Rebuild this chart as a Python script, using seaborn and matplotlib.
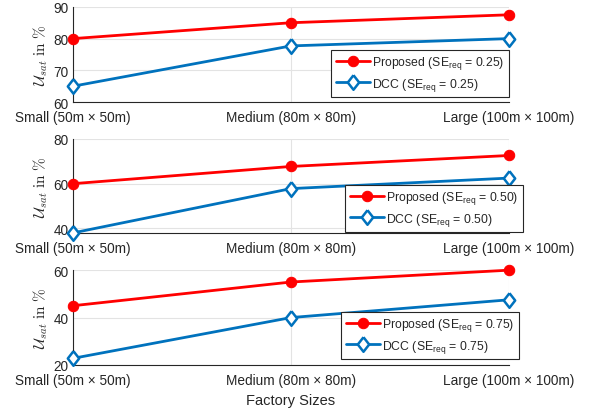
import numpy as np
import pandas as pd
import seaborn as sns
import matplotlib.pyplot as plt

sizes = ['Small (50m × 50m)', 'Medium (80m × 80m)', 'Large (100m × 100m)']
se_req = ['0.25', '0.50', '0.75']

proposed_025 = [80, 85, 87.5]
dcc_025 = [65, 77.7, 80]
proposed_050 = [60, 67.7, 72.6]
dcc_050 = [38, 57.8, 62.5]
proposed_075 = [45, 55, 60]
dcc_075 = [22.8, 40, 47.5]

ylims = [(60, 90), (38, 80), (20, 60)]
yticks = [[60, 70, 80, 90], [40, 60, 80], [20, 40, 60]]

sns.set_style('white')
plt.rcParams['font.family'] = ['Liberation Sans', 'DejaVu Sans']
plt.rcParams['mathtext.fontset'] = 'custom'
plt.rcParams['mathtext.rm'] = 'Liberation Sans'
plt.rcParams['mathtext.it'] = 'Liberation Sans:italic'

fig = plt.figure(figsize=(5.91, 4.14), dpi=100)
left, width = 0.1235, 0.7375
boxes = [(0.751, 0.230), (0.435, 0.227), (0.116, 0.229)]
leg_anchor = [(1.0, 0.053), (1.032, 0.01), (1.023, 0.063)]
series = [(proposed_025, dcc_025), (proposed_050, dcc_050), (proposed_075, dcc_075)]

# MATLAB-like diamond: a bit narrower than tall
diamond = [(0, 1), (0.78, 0), (0, -1), (-0.78, 0), (0, 1)]

dark = '#262626'
x = np.arange(len(sizes))

for i, (bottom, h) in enumerate(boxes):
    ax = fig.add_axes([left, bottom, width, h])
    prop, dcc = series[i]
    df = pd.DataFrame({'x': x, 'prop': prop, 'dcc': dcc})
    sns.lineplot(data=df, x='x', y='prop', ax=ax, color='#FF0000', lw=2,
                 marker='o', markersize=7.5, markeredgecolor='#FF0000',
                 label='Proposed (SE$_{\\mathrm{req}}$ = %s)' % se_req[i], zorder=4)
    sns.lineplot(data=df, x='x', y='dcc', ax=ax, color='#0072BD', lw=2,
                 marker=diamond, markersize=10.5, markerfacecolor='white',
                 markeredgecolor='#0072BD', markeredgewidth=1.8,
                 label='DCC (SE$_{\\mathrm{req}}$ = %s)' % se_req[i], zorder=3)
    ax.set_xlim(0, 2)
    ax.set_ylim(*ylims[i])
    ax.set_yticks(yticks[i])
    ax.set_xticks(x)
    ax.set_xticklabels(sizes)
    ax.grid(True, color='#E3E3E3', lw=0.8)
    ax.set_axisbelow(True)
    for s in ['top', 'right']:
        ax.spines[s].set_visible(False)
    for s in ['left', 'bottom']:
        ax.spines[s].set_color(dark)
        ax.spines[s].set_linewidth(0.8)
    ax.tick_params(direction='in', length=4, colors=dark, labelsize=9.8)
    ax.tick_params(axis='x', pad=6)
    ax.tick_params(axis='y', pad=3)
    ax.set_ylabel(r'$\mathcal{U}_{sat}\ \mathrm{in}\ \%$', fontsize=11,
                  math_fontfamily='cm', color=dark, labelpad=3)
    ax.set_xlabel('')
    for line in ax.get_lines():
        line.set_clip_on(False)
    leg = ax.legend(loc='lower right', bbox_to_anchor=leg_anchor[i], fontsize=8.8,
                    frameon=True, fancybox=False, edgecolor=dark, framealpha=1,
                    handlelength=2.8, borderpad=0.35, labelspacing=0.35,
                    handletextpad=0.2, borderaxespad=0)
    leg.get_frame().set_linewidth(0.8)
    if i == 2:
        ax.set_xlabel('Factory Sizes', fontsize=10.5, color=dark, labelpad=4)

fig.savefig('out.png', dpi=100)
